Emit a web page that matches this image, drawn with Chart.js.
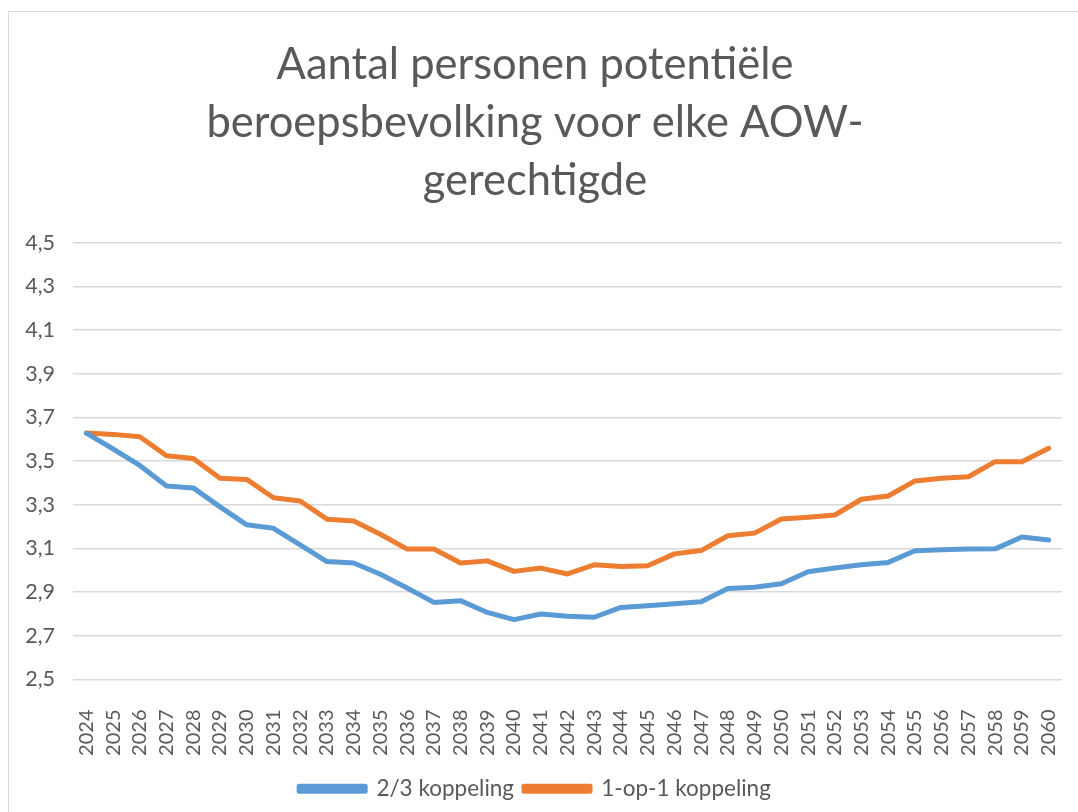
<!DOCTYPE html>
<html lang="nl">
  <head>
    <meta charset="UTF-8" />
    <title>AOW</title>
    <script src="https://cdn.jsdelivr.net/npm/chart.js"></script>
    <style>
      body { margin: 0; background: #fff; }
      .wrap { position: relative; width: 1078px; height: 812px; }
      .frame { position: absolute; left: 8px; top: 11px; width: 1200px; height: 1000px; border: 1.5px solid #d9d9d9; pointer-events: none; }
    </style>
  </head>
  <body>
    <div class="wrap">
      <canvas id="lineChart" width="1078" height="812"></canvas>
      <div class="frame"></div>
    </div>
    <script>
      // jaren en reeksen
      const years = [2024, 2025, 2026, 2027, 2028, 2029, 2030, 2031, 2032, 2033, 2034, 2035, 2036, 2037, 2038, 2039, 2040, 2041, 2042,
        2043, 2044, 2045, 2046, 2047, 2048, 2049, 2050, 2051, 2052, 2053, 2054, 2055, 2056, 2057, 2058, 2059, 2060];
      const tweeDerde = [3.628, 3.555, 3.48, 3.386, 3.377, 3.29, 3.208, 3.192, 3.116, 3.04, 3.033, 2.982, 2.919, 2.853, 2.861, 2.807,
        2.774, 2.8, 2.789, 2.785, 2.83, 2.838, 2.847, 2.856, 2.916, 2.922, 2.938, 2.993, 3.01, 3.025, 3.036, 3.089, 3.094, 3.097, 3.098,
        3.152, 3.139];
      const eenOpEen = [3.628, 3.622, 3.611, 3.524, 3.512, 3.421, 3.416, 3.332, 3.317, 3.234, 3.226, 3.165, 3.097, 3.097, 3.033, 3.043,
        2.995, 3.01, 2.983, 3.025, 3.017, 3.021, 3.075, 3.09, 3.158, 3.17, 3.235, 3.243, 3.253, 3.325, 3.34, 3.409, 3.421, 3.428, 3.497,
        3.497, 3.558];
      const seriesNames = ["2/3 koppeling", "1-op-1 koppeling"];
      const titleLines = ["Aantal personen potentiële", "beroepsbevolking voor elke AOW-", "gerechtigde"];

      const grey = "#595959";
      const ctx = document.getElementById("lineChart").getContext("2d");

      new Chart(ctx, {
        type: "line",
        data: {
          labels: years.map(String),
          datasets: [
            { label: seriesNames[0], data: tweeDerde, borderColor: "#5b9bd5", backgroundColor: "#5b9bd5" },
            { label: seriesNames[1], data: eenOpEen, borderColor: "#ed7d31", backgroundColor: "#ed7d31" },
          ],
        },
        options: {
          responsive: false,
          animation: false,
          layout: { padding: { left: 8, top: 11, right: 16, bottom: 2 } },
          elements: {
            line: { borderWidth: 5, tension: 0, borderCapStyle: "round", borderJoinStyle: "round" },
            point: { radius: 0 },
          },
          plugins: {
            title: {
              display: true,
              text: titleLines,
              color: grey,
              font: { family: "Lato", size: 43.5, weight: "normal", lineHeight: 1.33 },
              padding: { top: 25, bottom: 33 },
            },
            legend: {
              position: "bottom",
              labels: {
                color: grey,
                font: { family: "Lato", size: 22.5 },
                boxWidth: 66,
                boxHeight: 5,
                padding: 10,
              },
            },
            tooltip: { enabled: false },
          },
          scales: {
            x: {
              offset: true,
              grid: { display: false },
              border: { display: false },
              ticks: { color: grey, font: { family: "Lato", size: 20 }, minRotation: 90, maxRotation: 90, autoSkip: false, padding: 22 },
              afterFit: (scale) => {
                scale.height = 88;
                scale.paddingLeft = 0;
                scale.paddingRight = 0;
              },
            },
            y: {
              min: 2.5,
              max: 4.5,
              border: { display: false },
              grid: { color: "#d9d9d9", lineWidth: 1.5, drawTicks: false },
              ticks: {
                stepSize: 0.2,
                color: grey,
                padding: 18,
                font: { family: "Lato", size: 21.5 },
                callback: (v) => v.toFixed(1).replace(".", ","),
              },
              afterFit: (scale) => { scale.width = 65; },
            },
          },
        },
      });
    </script>
  </body>
</html>
